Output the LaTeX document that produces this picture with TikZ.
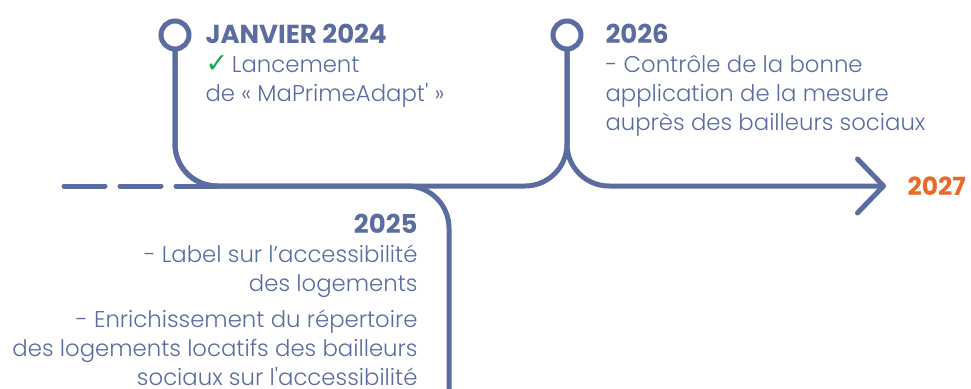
\documentclass[tikz,border=0pt]{standalone}
\usepackage{fontspec}
\setmainfont{Poppins Light}[BoldFont={Poppins Bold}, Ligatures={TeXOff}]
\newfontfamily\symbfont{DejaVu Sans}
\usepackage{tikz}
\usetikzlibrary{positioning}
\usetikzlibrary{arrows.meta}

\definecolor{lineblue}{RGB}{90,108,160}
\definecolor{yearorange}{RGB}{232,106,42}
\definecolor{checkgreen}{RGB}{22,168,88}

\newcommand{\yearhead}[1]{{\fontsize{26}{29}\selectfont\bfseries #1}}

\begin{document}
\begin{tikzpicture}[
                x=1pt, y=-1pt,
                line width=5pt,
                line cap=round,
                stop/.style={
                        draw=lineblue,
                        circle,
                        minimum size=28pt,
                        inner sep=0pt
                    },
                track/.style={
                        draw=lineblue,
                        rounded corners=42pt
                    },
                textnode/.style={
                        text=lineblue,
                        inner sep=0pt,
                        font=\fontsize{22.8}{29}\selectfont
                    },
                yearnode/.style={
                        text=yearorange,
                        inner sep=0pt,
                        font=\fontsize{25}{29}\selectfont\bfseries
                    }
            ]
            \useasboundingbox (0,0) rectangle (971,388);

            % Stops and turning points
            \node[stop] (c24) at (175,35) {};
            \node[stop] (c26) at (567,35) {};
            \coordinate (dashstart) at (64,186);
            \coordinate (dashend) at (217,186);
            \coordinate (j25) at (449,186);
            \coordinate (end25) at (449,396);
            \coordinate (j26) at (567,186);
            \coordinate (tip) at (886,186);

            % Track
            \draw[lineblue, dash pattern=on 41pt off 15pt] (dashstart) -- (dashend);
            \draw[track] (c24.south) |- (j25) -- (end25);
            \draw[track] (c24.south) |- (j26) -- (c26.south);
            \draw[track, -{Straight Barb[length=26pt, width=54pt, round]}] (c26.south) |- (tip);

            % Text next to the stops (base = last line)
            \node[textnode, anchor=base west, align=left] (e24) at (203,101) {\yearhead{JANVIER 2024}\\{\fontsize{27}{29}\symbfont\color{checkgreen}✓}\,Lancement\\de « MaPrimeAdapt' »};
            \node[textnode, anchor=base west, align=left] (e26) at (603,130) {\yearhead{2026}\\- Contrôle de la bonne\\application de la mesure\\auprès des bailleurs sociaux};
            \node[textnode, anchor=base east, align=right] (e25) at (420,385) {\yearhead{2025}\\- Label sur l’accessibilité\\des logements\\[7pt]- Enrichissement du répertoire\\des logements locatifs des bailleurs\\sociaux sur l'accessibilité};
            \node[yearnode, right=19pt of tip] (e27) {2027};

        \end{tikzpicture}
\end{document}
